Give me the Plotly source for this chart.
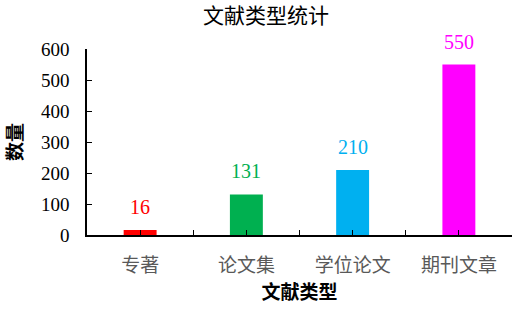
import plotly.graph_objects as go

categories = ["专著", "论文集", "学位论文", "期刊文章"]
values = [16, 131, 210, 550]
colors = ["#FF0000", "#00B050", "#00B0F0", "#FF00FF"]
y_ticks = [0, 100, 200, 300, 400, 500, 600]

xpos = list(range(len(categories)))

fig = go.Figure()
fig.add_trace(go.Bar(x=xpos, y=values, marker=dict(color=colors, line=dict(width=0)),
                     width=0.31, showlegend=False, hoverinfo="skip"))

for x, v, c in zip(xpos, values, colors):
    fig.add_annotation(x=x, y=v, text=str(v), showarrow=False, yanchor="bottom",
                       yshift=10, font=dict(family="Liberation Serif", size=20, color=c))

tickvals = []
ticktext = []
for i, cat in enumerate(categories):
    tickvals += [i - 0.5, i]
    ticktext += ["", cat]
tickvals.append(len(categories) - 0.5)
ticktext.append("")

fig.update_layout(
    width=521, height=310,
    margin=dict(l=87, r=9, t=48.5, b=74.5),
    paper_bgcolor="white", plot_bgcolor="white",
    font=dict(family="Liberation Serif, Noto Sans CJK SC", color="black"),
    title=dict(text="文献类型统计", x=266/521, xanchor="center", xref="container",
               y=1 - 16/310, yanchor="middle", yref="container",
               font=dict(size=21, family="Noto Sans CJK SC", color="black")),
    xaxis=dict(range=[-0.5, len(categories) - 0.5], tickvals=tickvals, ticktext=ticktext,
               ticks="inside", ticklen=5, tickwidth=1.2, tickcolor="black",
               showline=True, linecolor="black", linewidth=1.5, showgrid=False, zeroline=False,
               ticklabelstandoff=12,
               tickfont=dict(size=19, family="Noto Sans CJK SC", color="#595959"),
               title=dict(text="<b>文献类型</b>", standoff=8,
                          font=dict(size=19, family="Noto Sans CJK SC", color="black"))),
    yaxis=dict(range=[0, 600], tickvals=y_ticks, ticks="inside", ticklen=5, tickwidth=1.2,
               tickcolor="black", showline=True, linecolor="black", linewidth=1.5,
               showgrid=False, zeroline=False, ticklabelstandoff=12,
               tickfont=dict(size=19, family="Liberation Serif", color="black"),
               title=dict(text="<b>数量</b>", standoff=14,
                          font=dict(size=19, family="Noto Sans CJK SC", color="black"))),
    bargap=0.69,
)

fig.write_html("out.html")
